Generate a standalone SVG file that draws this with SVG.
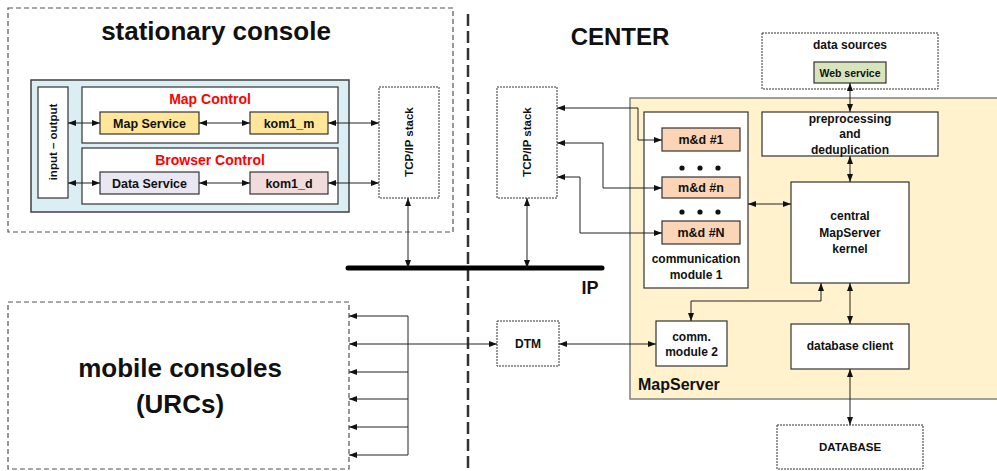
<svg xmlns="http://www.w3.org/2000/svg" width="997" height="471" viewBox="0 0 997 471">
  <style>
    text { font-family: "Liberation Sans", Arial, sans-serif; font-weight: bold; fill: #111; text-anchor: middle; }
    .box { fill: #fff; stroke: #333; stroke-width: 1.2; }
    .dotted { fill: #fff; stroke: #333; stroke-width: 1; stroke-dasharray: 2 1; }
    .dashed { fill: #fff; stroke: #555; stroke-width: 1.2; stroke-dasharray: 5 3; }
    .yellow { fill: #FFE699; stroke: #333; stroke-width: 1.2; }
    .peach { fill: #FBD5B5; stroke: #333; stroke-width: 1.2; }
    .lav { fill: #E9E7F1; stroke: #333; stroke-width: 1.2; }
    .pink { fill: #F2DCDB; stroke: #333; stroke-width: 1.2; }
    .green { fill: #D7E4BC; stroke: #333; stroke-width: 1.2; }
    .red { fill: #FF0000; font-size: 14px; }
    .s { font-size: 12.5px; }
    .conn path { fill: none; stroke: #222; stroke-width: 1; }
    .both { marker-start: url(#ah); marker-end: url(#ah); }
    .end { marker-end: url(#ah); }
  </style>
  <defs>
    <marker id="ah" viewBox="0 0 8 6" refX="8" refY="3" markerWidth="8" markerHeight="6" markerUnits="userSpaceOnUse" orient="auto-start-reverse">
      <path d="M0,0 L8,3 L0,6 z" fill="#111"/>
    </marker>
  </defs>

  <!-- stationary console -->
  <g id="stationary-console">
    <rect class="dashed" x="8" y="8" width="445" height="224"/>
    <text x="216" y="40" style="font-size:26px">stationary console</text>
  </g>
  <g id="console-panel">
    <rect x="31" y="80" width="318" height="132" fill="#DAEEF3" stroke="#404040" stroke-width="1.5"/>
  </g>
  <g id="input-output">
    <rect class="box" x="38" y="87" width="30" height="111"/>
    <text transform="translate(53,142) rotate(-90)" y="4" style="font-size:11.5px">input – output</text>
  </g>
  <g id="map-control">
    <rect class="box" x="82" y="87" width="256" height="56"/>
    <text class="red" x="210" y="104">Map Control</text>
  </g>
  <g id="map-service">
    <rect class="yellow" x="100" y="112" width="99" height="22"/>
    <text class="s" x="149.5" y="127.5">Map Service</text>
  </g>
  <g id="kom1-m">
    <rect class="yellow" x="250" y="112" width="78" height="22"/>
    <text class="s" x="289" y="127.5">kom1_m</text>
  </g>
  <g id="browser-control">
    <rect class="box" x="82" y="148" width="256" height="56"/>
    <text class="red" x="210" y="165">Browser Control</text>
  </g>
  <g id="data-service">
    <rect class="lav" x="100" y="172" width="99" height="22"/>
    <text class="s" x="149.5" y="187.5">Data Service</text>
  </g>
  <g id="kom1-d">
    <rect class="pink" x="250" y="172" width="78" height="22"/>
    <text class="s" x="289" y="187.5">kom1_d</text>
  </g>
  <g id="tcp-left">
    <rect class="dotted" x="379" y="87" width="60" height="111"/>
    <text transform="translate(409,142) rotate(-90)" y="4" style="font-size:11.5px">TCP/IP stack</text>
  </g>

  <!-- divider between sites -->
  <path d="M468,14 V471" stroke="#333" stroke-width="2.5" stroke-dasharray="12 5" fill="none"/>

  <!-- center -->
  <g id="center-title">
    <text x="620" y="45" style="font-size:24px">CENTER</text>
  </g>
  <g id="data-sources">
    <rect class="dotted" x="762" y="33" width="176" height="56"/>
    <text x="850" y="49" style="font-size:12px">data sources</text>
  </g>
  <g id="web-service">
    <rect class="green" x="814" y="62" width="72" height="21"/>
    <text x="850" y="76.5" style="font-size:10.5px">Web service</text>
  </g>
  <g id="tcp-right">
    <rect class="dotted" x="497" y="87" width="60" height="111"/>
    <text transform="translate(527,142) rotate(-90)" y="4" style="font-size:11.5px">TCP/IP stack</text>
  </g>
  <g id="mapserver">
    <rect x="630" y="98" width="372" height="301" fill="#FFF2CC" stroke="#808080" stroke-width="1.5"/>
    <text x="638" y="390" style="font-size:16px;text-anchor:start">MapServer</text>
  </g>
  <g id="comm-module-1">
    <rect class="box" x="644" y="112" width="104" height="176"/>
    <text x="696" y="263" style="font-size:12px">communication</text>
    <text x="696" y="279" style="font-size:12px">module 1</text>
    <g fill="#111">
      <circle cx="682" cy="168" r="2.6"/><circle cx="700" cy="168" r="2.6"/><circle cx="718" cy="168" r="2.6"/>
      <circle cx="682" cy="212" r="2.6"/><circle cx="700" cy="212" r="2.6"/><circle cx="718" cy="212" r="2.6"/>
    </g>
  </g>
  <g id="md-1">
    <rect class="peach" x="662" y="128" width="78" height="23"/>
    <text class="s" x="701" y="144">m&amp;d #1</text>
  </g>
  <g id="md-n">
    <rect class="peach" x="662" y="177" width="78" height="21"/>
    <text class="s" x="701" y="192">m&amp;d #n</text>
  </g>
  <g id="md-N">
    <rect class="peach" x="662" y="221" width="78" height="23"/>
    <text class="s" x="701" y="237">m&amp;d #N</text>
  </g>
  <g id="preprocessing">
    <rect class="box" x="762" y="112" width="176" height="44"/>
    <text x="850" y="123" style="font-size:12px">preprocessing</text>
    <text x="850" y="138" style="font-size:12px">and</text>
    <text x="850" y="154" style="font-size:12px">deduplication</text>
  </g>
  <g id="kernel">
    <rect class="box" x="791" y="182" width="118" height="101"/>
    <text x="850" y="220" style="font-size:12px">central</text>
    <text x="850" y="237" style="font-size:12px">MapServer</text>
    <text x="850" y="253" style="font-size:12px">kernel</text>
  </g>
  <g id="comm-module-2">
    <rect class="box" x="656" y="321" width="71" height="45"/>
    <text x="691.5" y="341" style="font-size:12px">comm.</text>
    <text x="691.5" y="356" style="font-size:12px">module 2</text>
  </g>
  <g id="database-client">
    <rect class="box" x="791" y="324" width="118" height="45"/>
    <text x="850" y="350" style="font-size:12px">database client</text>
  </g>
  <g id="database">
    <rect class="dotted" x="777" y="425" width="146" height="44"/>
    <text x="850" y="451" style="font-size:11.5px">DATABASE</text>
  </g>
  <g id="dtm">
    <rect class="dotted" x="497" y="321" width="62" height="45"/>
    <text x="528" y="348" style="font-size:12px">DTM</text>
  </g>
  <g id="ip-bus">
    <path d="M348,268 H602" stroke="#000" stroke-width="5" stroke-linecap="round" fill="none"/>
    <text x="590" y="294" style="font-size:18px">IP</text>
  </g>
  <g id="mobile-consoles">
    <rect class="dashed" x="8" y="302" width="341" height="167"/>
    <text x="180" y="377" style="font-size:26px">mobile consoles</text>
    <text x="180" y="413" style="font-size:26px">(URCs)</text>
  </g>

  <!-- connectors -->
  <g id="connectors" class="conn">
    <path class="both" d="M68,123 H100"/>
    <path class="both" d="M199,123 H250"/>
    <path class="both" d="M328,123 H379"/>
    <path class="both" d="M68,183 H100"/>
    <path class="both" d="M199,183 H250"/>
    <path class="both" d="M328,183 H379"/>
    <path class="both" d="M408,198 V268"/>
    <path class="both" d="M527,198 V268"/>
    <path class="both" d="M557,108 H638 V140 H662"/>
    <path class="both" d="M557,143 H603 V188 H662"/>
    <path class="both" d="M557,177 H580 V233 H662"/>
    <path class="both" d="M748,204 H791"/>
    <path class="both" d="M850,83 V112"/>
    <path class="both" d="M850,156 V182"/>
    <path class="both" d="M821,283 V301 H691 V321"/>
    <path class="both" d="M850,283 V324"/>
    <path class="both" d="M850,369 V425"/>
    <path class="both" d="M559,344 H656"/>
    <path class="both" d="M349,344 H497"/>
    <path d="M408,316 V455"/>
    <path class="end" d="M408,316 H349"/>
    <path class="end" d="M408,372 H349"/>
    <path class="end" d="M408,399 H349"/>
    <path class="end" d="M408,427 H349"/>
    <path class="end" d="M408,455 H349"/>
  </g>
</svg>
